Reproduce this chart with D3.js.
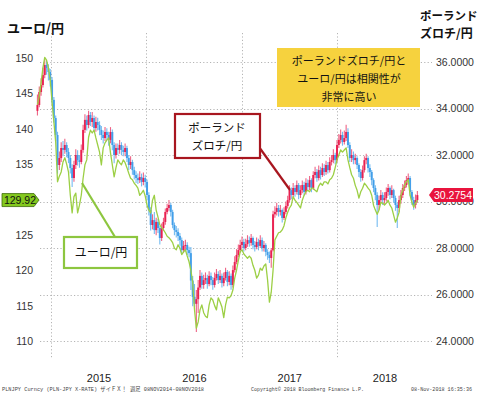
<!DOCTYPE html>
<html><head><meta charset="utf-8">
<script src="https://cdn.jsdelivr.net/npm/d3@7"></script>
<style>
html,body{margin:0;padding:0;background:#fff;}
svg{display:block;}
</style></head>
<body>
<svg id="c" width="477" height="397"></svg>
<script>
// ---- Data (weekly, from 10 Nov 2014 to 5 Nov 2018) ----
const firstWeek = new Date(2014, 10, 10);
const lastWeek = new Date(2018, 10, 6);
const plnOpen0 = 33.90;
const plnClose = [34.15,34.71,35.01,35.44,35.87,35.74,35.57,35.23,34.37,33.59,32.86,31.57,31.87,32.30,32.22,32.43,32.13,31.87,31.44,31.01,
31.57,32.00,31.78,31.70,32.22,33.08,33.51,33.29,33.72,33.42,33.59,33.16,33.42,33.29,33.08,32.86,32.73,32.99,32.86,32.65,
32.99,32.43,32.00,32.30,32.22,32.43,32.22,32.13,32.30,31.87,31.57,31.70,31.35,31.14,31.01,30.92,31.05,30.84,31.01,30.84,
30.28,29.63,28.99,29.20,28.77,29.12,28.86,28.43,28.86,29.12,29.55,29.72,29.85,29.55,28.99,28.77,28.69,28.52,28.34,27.91,
28.09,28.13,27.91,27.78,26.60,25.90,25.60,25.80,26.30,26.80,26.41,26.62,26.71,26.45,26.80,26.62,26.41,26.71,26.88,26.62,
26.80,26.49,26.71,26.97,26.54,26.80,26.41,27.05,27.40,27.70,27.91,28.13,28.26,28.00,28.17,28.34,28.22,28.43,28.13,28.04,
28.26,28.09,28.34,28.00,28.13,27.83,27.70,27.57,27.90,29.45,29.55,29.72,29.55,29.63,29.29,29.55,29.81,30.06,30.49,30.28,
30.58,30.41,30.71,30.28,30.49,30.71,30.41,30.80,30.62,30.92,30.58,31.14,31.27,31.01,31.35,31.14,31.44,31.27,31.57,31.35,
31.70,31.78,32.00,31.78,32.43,32.65,32.86,32.56,32.73,32.99,32.43,31.87,32.00,31.78,31.87,31.57,31.27,31.01,31.35,31.78,
31.87,31.44,31.27,30.92,30.58,30.28,29.85,30.06,30.28,30.06,30.15,30.41,30.58,30.28,30.49,30.15,29.85,29.72,30.06,30.28,
30.58,30.71,30.92,31.01,30.41,30.06,29.85,30.06,30.2754];
const plnHigh = [34.60,34.95,35.30,35.75,36.12,36.05,35.90,35.70,35.35,34.50,33.70,33.00,32.15,32.55,32.60,32.70,32.55,32.30,32.00,31.60,
31.75,32.25,32.20,32.00,32.45,33.30,33.75,33.70,33.90,33.85,33.85,33.70,33.65,33.60,33.45,33.25,33.05,33.20,33.15,33.00,
33.20,33.10,32.55,32.50,32.50,32.65,32.55,32.40,32.50,32.40,32.00,31.95,31.80,31.50,31.30,31.20,31.30,31.20,31.25,31.15,
30.95,30.40,29.75,29.45,29.55,29.30,29.25,28.95,29.05,29.30,29.70,29.90,30.06,29.95,29.65,29.10,28.95,28.85,28.65,28.45,
28.30,28.35,28.25,28.05,28.04,26.80,26.45,26.19,26.62,27.05,26.95,26.85,26.95,26.85,27.00,26.95,26.75,26.95,27.10,27.00,
27.05,26.90,26.95,27.15,27.05,27.00,26.90,27.25,27.65,27.95,28.15,28.35,28.50,28.40,28.40,28.55,28.50,28.60,28.50,28.30,
28.45,28.40,28.55,28.45,28.30,28.20,27.95,27.85,28.00,29.60,29.80,29.95,29.85,29.85,29.70,29.75,30.00,30.25,30.70,30.60,
30.80,30.70,30.90,30.80,30.70,30.90,30.85,31.00,30.95,31.10,31.00,31.30,31.50,31.40,31.55,31.50,31.65,31.60,31.75,31.70,
31.90,32.00,32.25,32.10,32.65,32.90,33.10,33.00,33.05,33.30,33.15,32.55,32.25,32.15,32.05,31.95,31.65,31.40,31.55,31.95,
32.05,31.95,31.60,31.35,31.00,30.70,30.40,30.25,30.50,30.40,30.40,30.60,30.75,30.65,30.70,30.55,30.25,29.95,30.25,30.50,
30.75,30.90,31.10,31.20,31.10,30.50,30.20,30.30,30.45];
const plnLow = [33.70,34.05,34.55,34.90,35.30,35.45,35.20,34.95,34.20,33.40,32.60,31.20,31.35,31.70,31.95,32.05,31.90,31.65,31.20,30.62,
30.85,31.40,31.55,31.45,31.60,32.10,32.95,33.05,33.15,33.25,33.20,33.00,33.00,33.05,32.85,32.65,32.50,32.60,32.65,32.40,
32.50,32.20,31.65,31.85,32.00,32.05,32.00,31.95,31.95,31.70,31.35,31.40,31.15,30.95,30.80,30.75,30.80,30.65,30.70,30.60,
30.05,29.40,28.75,28.80,28.60,28.55,28.65,28.15,28.30,28.75,29.00,29.45,29.60,29.35,28.85,28.55,28.45,28.30,28.10,27.75,
27.80,27.90,27.70,27.60,26.19,25.50,25.46,24.39,25.20,26.19,26.25,26.25,26.45,26.25,26.35,26.40,26.20,26.30,26.60,26.45,
26.50,26.30,26.35,26.60,26.35,26.40,26.20,26.30,26.95,27.30,27.60,27.80,28.00,27.85,27.90,28.05,28.05,28.10,27.95,27.85,
27.95,27.90,28.00,27.85,27.85,27.65,27.50,27.35,27.15,27.85,29.30,29.40,29.35,29.40,29.10,29.20,29.45,29.70,29.95,30.10,
30.15,30.20,30.30,30.10,30.15,30.35,30.25,30.30,30.45,30.50,30.40,30.50,31.00,30.85,30.90,30.95,31.05,31.10,31.15,31.20,
31.25,31.55,31.65,31.60,31.70,32.30,32.50,32.40,32.45,32.60,32.30,31.70,31.70,31.60,31.60,31.40,31.05,30.85,30.90,31.25,
31.60,31.25,31.05,30.70,30.40,30.05,28.90,29.65,29.90,29.85,29.90,30.00,30.25,30.10,30.15,29.95,29.60,28.86,29.55,29.90,
30.15,30.45,30.60,30.75,30.25,29.85,29.65,29.70,29.95];
const eurClose = [143.4,144.6,146.5,148.6,150.1,149.7,148.6,146.9,143.8,141.0,138.1,132.5,133.3,133.9,135.3,135.9,135.0,133.9,130.6,128.1,
130.4,130.9,128.1,129.2,130.6,133.0,134.9,135.6,138.8,139.8,139.4,139.8,138.7,137.7,136.7,134.9,137.3,138.0,138.4,138.7,
136.6,134.9,133.2,134.5,135.6,135.2,134.9,135.6,135.2,134.5,133.7,133.0,132.8,132.3,132.0,131.6,130.6,130.9,131.3,130.5,
129.2,128.5,128.1,129.9,130.6,128.5,127.5,126.4,126.0,125.7,125.3,124.8,124.6,124.3,123.9,123.1,122.9,123.6,123.1,122.2,
122.6,122.9,122.0,121.2,120.0,118.3,114.4,111.8,112.7,114.4,115.1,114.0,113.5,113.3,115.1,116.1,115.8,115.0,114.4,116.1,
115.5,114.8,113.3,115.1,116.2,116.1,116.4,117.2,118.9,120.0,121.4,122.6,122.9,122.3,122.0,121.7,122.0,121.7,120.7,120.0,
118.9,119.3,120.3,120.0,120.6,120.9,118.6,115.5,116.9,120.0,124.3,124.8,125.3,125.4,125.7,126.3,127.4,128.2,128.8,129.2,
130.4,129.9,129.6,129.2,128.8,129.9,130.6,131.1,131.3,131.1,131.6,131.6,131.3,131.1,131.9,132.3,132.0,132.5,132.5,132.2,
132.8,133.0,133.5,134.5,135.6,136.3,137.0,136.7,137.0,137.3,135.6,134.5,133.5,133.0,132.0,131.3,130.2,131.1,131.6,132.3,
132.0,131.6,131.3,130.6,129.2,128.5,127.9,128.5,129.6,129.5,129.2,129.5,129.9,129.2,128.8,127.8,126.8,127.4,128.2,130.6,
131.3,132.0,132.5,132.8,130.6,129.6,128.9,129.5,129.92];
// 130 lies under the last-value tag in the reference, so it is not labelled
const leftTicks = [110,115,120,125,135,140,145,150];
const rightTicks = [24,26,28,30,32,34,36];
const yearStarts = [new Date(2015,0,1), new Date(2016,0,1), new Date(2017,0,1), new Date(2018,0,1)];
const yearLabels = [new Date(2015,6,2), new Date(2016,6,2), new Date(2017,6,2), new Date(2018,6,2)];

// ---- Drawing ----
const svg = d3.select('#c');
const x = d3.scaleTime().domain([yearStarts[0], yearStarts[3]]).range([51, 337]);
const yR = d3.scaleLinear().domain([24, 36]).range([341, 62]);
const yL = d3.scaleLinear().domain([110, 150]).range([341, 58]);
const weeks = d3.timeMonday.range(firstWeek, lastWeek);
const candles = plnClose.map((c, i) => ({
  date: weeks[i], open: i === 0 ? plnOpen0 : plnClose[i-1], close: c, high: plnHigh[i], low: plnLow[i]
}));
const sansJP = '"Noto Sans CJK JP", "Noto Sans", sans-serif';
const num = '"Liberation Sans", Arial, sans-serif';

// gridlines
const grid = svg.append('g').attr('stroke', '#b5b5b5').attr('stroke-dasharray', '1.2,2.2').attr('stroke-width', 1);
grid.selectAll('line.h').data(rightTicks).join('line')
  .attr('x1', 40).attr('x2', 432).attr('y1', d => Math.round(yR(d)) + 0.5).attr('y2', d => Math.round(yR(d)) + 0.5);
grid.selectAll('line.v').data(yearStarts).join('line')
  .attr('y1', 33).attr('y2', 358).attr('x1', d => Math.round(x(d)) + 0.5).attr('x2', d => Math.round(x(d)) + 0.5);

// candles
const up = '#e8194b', down = '#3c9be8';
const cg = svg.append('g');
cg.selectAll('line').data(candles).join('line')
  .attr('x1', d => x(d.date)).attr('x2', d => x(d.date))
  .attr('y1', d => yR(d.high)).attr('y2', d => yR(d.low))
  .attr('stroke', d => d.close >= d.open ? '#ee6486' : '#74bbf0').attr('stroke-width', 1.1);
cg.selectAll('rect').data(candles).join('rect')
  .attr('x', d => x(d.date) - 1).attr('width', 2)
  .attr('y', d => yR(Math.max(d.open, d.close)))
  .attr('height', d => Math.max(0.8, Math.abs(yR(d.open) - yR(d.close))))
  .attr('fill', d => d.close >= d.open ? up : down).attr('fill-opacity', 0.92);

// EUR line
svg.append('path').datum(eurClose)
  .attr('fill', 'none').attr('stroke', '#9ccf45').attr('stroke-width', 1.3).attr('stroke-linejoin', 'round')
  .attr('d', d3.line().x((d, i) => x(weeks[i])).y(d => yL(d)));

// axes
const axL = svg.append('g').attr('transform', 'translate(33,0)')
  .call(d3.axisLeft(yL).tickValues(leftTicks).tickSize(0).tickPadding(0));
const axR = svg.append('g').attr('transform', 'translate(435,0)')
  .call(d3.axisRight(yR).tickValues(rightTicks).tickSize(0).tickPadding(1).tickFormat(d3.format('.4f')));
const axB = svg.append('g').attr('transform', 'translate(0,370)')
  .call(d3.axisBottom(x).tickValues(yearLabels).tickSize(0).tickPadding(4).tickFormat(d3.timeFormat('%Y')));
[axL, axR, axB].forEach(a => {
  a.select('.domain').remove();
  a.selectAll('text').attr('font-family', num).attr('font-size', 10.5).attr('fill', '#333');
});
axB.selectAll('text').attr('font-size', 11).attr('fill', '#222');

// titles
svg.append('text').attr('x', 7).attr('y', 33).text('ユーロ/円')
  .attr('font-family', sansJP).attr('font-weight', 'bold').attr('font-size', 13).attr('fill', '#111');
svg.append('text').attr('x', 420).attr('y', 20).text('ポーランド')
  .attr('font-family', sansJP).attr('font-weight', 'bold').attr('font-size', 11.5).attr('fill', '#111');
svg.append('text').attr('x', 420).attr('y', 38).text('ズロチ/円')
  .attr('font-family', sansJP).attr('font-weight', 'bold').attr('font-size', 12).attr('fill', '#111');

// yellow note
svg.append('rect').attr('x', 277).attr('y', 48).attr('width', 143).attr('height', 59).attr('fill', '#f6d23e');
['ポーランドズロチ/円と', 'ユーロ/円は相関性が', '非常に高い'].forEach((t, i) => {
  svg.append('text').attr('x', 349).attr('y', 65 + i * 18).attr('text-anchor', 'middle').text(t)
    .attr('font-family', sansJP).attr('font-size', 11).attr('fill', '#111');
});

// red callout
svg.append('line').attr('x1', 259).attr('y1', 147).attr('x2', 290).attr('y2', 190)
  .attr('stroke', '#a8161f').attr('stroke-width', 2.2);
svg.append('rect').attr('x', 175).attr('y', 114).attr('width', 85).attr('height', 44)
  .attr('fill', '#fff').attr('stroke', '#a8161f').attr('stroke-width', 2.2);
['ポーランド', 'ズロチ/円'].forEach((t, i) => {
  svg.append('text').attr('x', 217).attr('y', 132 + i * 18).attr('text-anchor', 'middle').text(t)
    .attr('font-family', sansJP).attr('font-size', 11.5).attr('fill', '#111');
});

// green callout
svg.append('line').attr('x1', 82).attr('y1', 183).attr('x2', 115).attr('y2', 237)
  .attr('stroke', '#8dc63f').attr('stroke-width', 2.2);
svg.append('rect').attr('x', 64).attr('y', 237).attr('width', 73).attr('height', 31)
  .attr('fill', '#fff').attr('stroke', '#8dc63f').attr('stroke-width', 2.2);
svg.append('text').attr('x', 101).attr('y', 257).attr('text-anchor', 'middle').text('ユーロ/円')
  .attr('font-family', sansJP).attr('font-size', 12).attr('fill', '#111');

// last-value tags
const eLast = eurClose[eurClose.length - 1], pLast = plnClose[plnClose.length - 1];
const ey = yL(eLast);
svg.append('path').attr('d', `M2,${ey-6.5}H34L39,${ey}L34,${ey+6.5}H2Z`)
  .attr('fill', '#84c91e').attr('stroke', '#3f6b0a').attr('stroke-width', 0.8);
svg.append('text').attr('x', 20).attr('y', ey + 3.8).attr('text-anchor', 'middle').text(d3.format('.2f')(eLast))
  .attr('font-family', num).attr('font-size', 10.5).attr('fill', '#111');
const py = yR(pLast);
svg.append('path').attr('d', `M429,${py}L434,${py-7}H473V${py+7}H434Z`).attr('fill', '#e9143d');
svg.append('text').attr('x', 453).attr('y', py + 3.8).attr('text-anchor', 'middle').text(d3.format('.4f')(pLast))
  .attr('font-family', num).attr('font-size', 10.5).attr('fill', '#fff');

// footer
const foot = [
  {t: 'PLNJPY Curncy (PLN-JPY X-RATE) ザイＦＸ！ 週足 08NOV2014-08NOV2018', x: 2, w: 202},
  {t: 'Copyright© 2018 Bloomberg Finance L.P.', x: 251, w: 113},
  {t: '08-Nov-2018 16:35:36', x: 411, w: 61}
];
foot.forEach(f => {
  svg.append('text').attr('x', f.x).attr('y', 391).text(f.t)
    .attr('font-family', '"Liberation Mono", "Noto Sans CJK JP", monospace').attr('font-size', 5.5)
    .attr('fill', '#444').attr('textLength', f.w).attr('lengthAdjust', 'spacingAndGlyphs');
});
</script>
</body></html>
